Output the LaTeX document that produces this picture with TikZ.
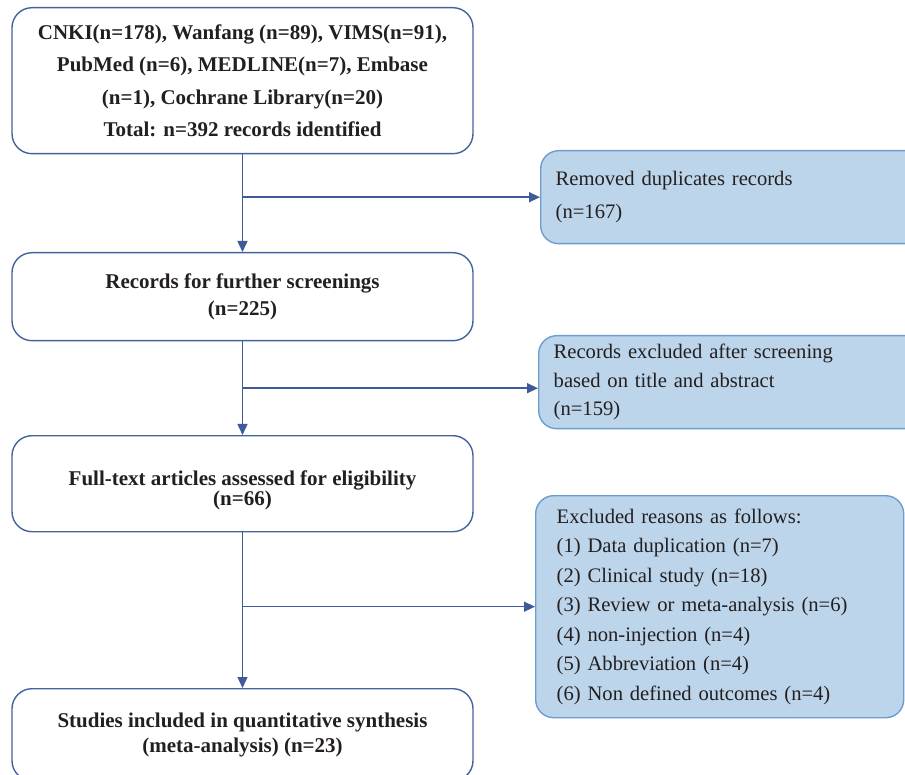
\documentclass[tikz,border=0pt]{standalone}
\usepackage{fontspec}
\setmainfont{Liberation Serif}
\usetikzlibrary{arrows.meta, calc}
\definecolor{boxline}{RGB}{66,98,160}
\definecolor{flowline}{RGB}{61,90,154}
\definecolor{notefill}{RGB}{189,213,234}
\definecolor{noteline}{RGB}{108,157,210}
\definecolor{ink}{RGB}{35,31,32}
\begin{document}
\begin{tikzpicture}[
  % one unit is one pixel of the 905 x 775 figure, y runs downwards
  x=1pt, y=-1pt, text=ink,
  stage/.style={draw=boxline, line width=1.4pt, rounded corners=20pt, align=center,
    minimum width=461pt, inner sep=0pt, anchor=north,
    font=\bfseries\fontsize{21}{#1}\selectfont},
  note/.style={draw=noteline, fill=notefill, line width=1.4pt, rounded corners=18pt,
    align=left, anchor=north west, inner ysep=0pt, font=\fontsize{20.6}{#1}\selectfont},
  ar/.style={-{Triangle[length=11pt, width=10pt]}, line width=1.4pt, flowline},
]
\useasboundingbox (0,0) rectangle (905,775);
% main column
\node[stage=32.3, minimum height=146pt] (ident) at (242.5,7) {CNKI(n=178), Wanfang (n=89), VIMS(n=91),\\
  PubMed (n=6), MEDLINE(n=7), Embase\\(n=1), Cochrane Library(n=20)\\Total: n=392 records identified};
\node[stage=27, minimum height=88pt] (screened) at (242.5,252) {Records for further screenings\\(n=225)};
\node[stage=19, minimum height=96pt] (fulltext) at (242.5,435) {\rule{0pt}{28pt}Full-text articles assessed for eligibility\\(n=66)};
\node[stage=25, minimum height=92pt] (included) at (242.5,688) {Studies included in quantitative synthesis\\(meta-analysis) (n=23)};
% side notes
\node[note=33, minimum height=93pt, text width=360pt, inner xsep=15pt] (dupl) at (540,150) {Removed duplicates records\\(n=167)};
\node[note=28.5, minimum height=93pt, text width=360pt, inner xsep=15pt] (excl) at (538,335) {Records excluded after screening\\
  based on title and abstract\\(n=159)};
\node[note=29.5, minimum height=222pt, text width=326pt, inner xsep=21pt] (reasons) at (535,495) {Excluded reasons as follows:\\
  (1) Data duplication (n=7)\\(2) Clinical study (n=18)\\(3) Review or meta-analysis (n=6)\\
  (4) non-injection (n=4)\\(5) Abbreviation (n=4)\\(6) Non defined outcomes (n=4)};
% flow
\draw[ar] (ident.south) -- (screened.north);
\draw[ar] (screened.south) -- (fulltext.north);
\draw[ar] (fulltext.south) -- (included.north);
\coordinate (j1) at (ident.south |- dupl.west);
\coordinate (j2) at ($(screened.south)!0.5!(fulltext.north)$);
\coordinate (j3) at (fulltext.south |- reasons.west);
\draw[ar] (j1) -- (dupl.west);
\draw[ar] (j2) -- (j2 -| excl.west);
\draw[ar] (j3) -- (reasons.west);
\end{tikzpicture}
\end{document}
